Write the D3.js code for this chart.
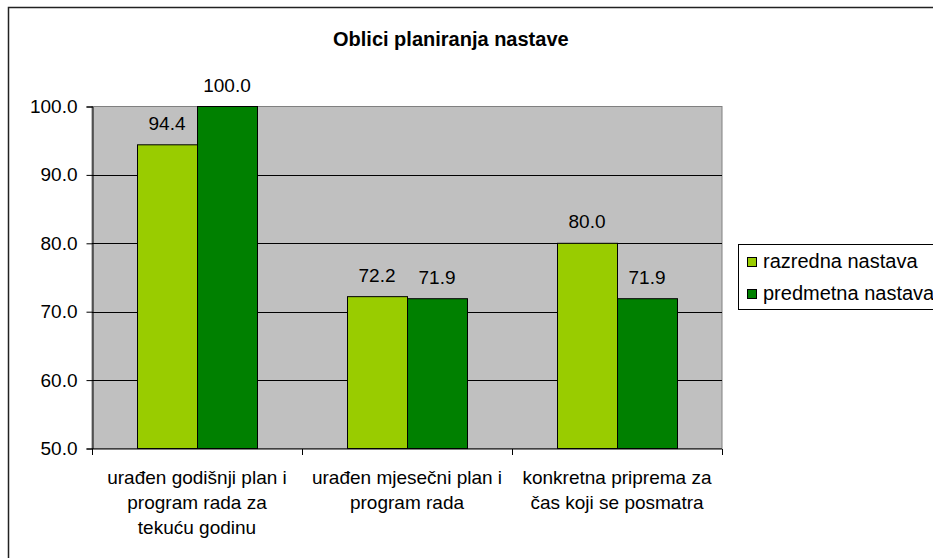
<!DOCTYPE html>
<html>
<head>
<meta charset="utf-8">
<script src="https://cdn.jsdelivr.net/npm/d3@7"></script>
<style>
  body { margin: 0; background: #fff; }
  svg { display: block; font-family: Arial, "Liberation Sans", sans-serif; }
</style>
</head>
<body>
<div id="chart"></div>
<script>
// chart data
var categories = [
    ["urađen godišnji plan i", "program rada za", "tekuću godinu"],
    ["urađen mjesečni plan i", "program rada"],
    ["konkretna priprema za", "čas koji se posmatra"]
];
var seriesNames = ["razredna nastava", "predmetna nastava"];
var razrednaValues = [94.4, 72.2, 80.0];
var predmetnaValues = [100.0, 71.9, 71.9];
var yTicks = [50, 60, 70, 80, 90, 100];
var seriesColors = ["#99CC00", "#008000"];

var width = 933, height = 558;
var plot = {left: 92, right: 722, top: 106.5, bottom: 448.5};

var svg = d3.select("#chart").append("svg")
    .attr("width", width)
    .attr("height", height);

// outer chart border (runs off the right / bottom edge)
svg.append("rect")
    .attr("x", 8.5).attr("y", 7.5)
    .attr("width", 1000).attr("height", 1000)
    .attr("fill", "#fff")
    .attr("stroke", "#222")
    .attr("stroke-width", 1.5);

svg.append("text")
    .attr("x", 333).attr("y", 46)
    .style("font-size", "20px")
    .style("font-weight", "bold")
    .text("Oblici planiranja nastave");

var y = d3.scaleLinear().domain([50, 100]).range([plot.bottom, plot.top]);
var x0 = d3.scaleBand().domain(d3.range(categories.length)).range([plot.left, plot.right]);
var x1 = d3.scaleBand().domain(seriesNames).range([45, 165]);

// plot background
svg.append("rect")
    .attr("x", plot.left).attr("y", plot.top)
    .attr("width", plot.right - plot.left).attr("height", plot.bottom - plot.top)
    .attr("fill", "#C0C0C0")
    .attr("stroke", "#808080");

// gridlines
svg.append("g").selectAll("line")
    .data(yTicks.filter(function(t) { return t > 50 && t < 100; }))
    .enter().append("line")
    .attr("x1", plot.left).attr("x2", plot.right)
    .attr("y1", function(d) { return Math.round(y(d)) + 0.5; })
    .attr("y2", function(d) { return Math.round(y(d)) + 0.5; })
    .attr("stroke", "#000");

// bars
var rows = categories.map(function(c, i) {
    return [
        {series: seriesNames[0], value: razrednaValues[i], color: seriesColors[0]},
        {series: seriesNames[1], value: predmetnaValues[i], color: seriesColors[1]}
    ];
});

var groups = svg.append("g").selectAll("g")
    .data(rows)
    .enter().append("g")
    .attr("transform", function(d, i) { return "translate(" + x0(i) + ",0)"; });

groups.selectAll("rect")
    .data(function(d) { return d; })
    .enter().append("rect")
    .attr("x", function(d) { return x1(d.series) + 0.5; })
    .attr("y", function(d) { return y(d.value); })
    .attr("width", x1.bandwidth())
    .attr("height", function(d) { return y(50) - y(d.value); })
    .attr("fill", function(d) { return d.color; })
    .attr("stroke", "#000")
    .attr("stroke-width", 1);

groups.selectAll("text")
    .data(function(d) { return d; })
    .enter().append("text")
    .attr("x", function(d) { return x1(d.series) + x1.bandwidth() / 2; })
    .attr("y", function(d) { return y(d.value) - 15; })
    .attr("text-anchor", "middle")
    .style("font-size", "19px")
    .text(function(d) { return d.value.toFixed(1); });

// y axis
var yAxis = d3.axisLeft(y).tickValues(yTicks).tickSize(6)
    .tickFormat(function(d) { return d3.format(".1f")(d); });
var yG = svg.append("g")
    .attr("transform", "translate(" + (plot.left + 0.5) + ",0)")
    .call(yAxis);
yG.selectAll("text").style("font-size", "19px").attr("fill", "#000").attr("x", -15);
yG.selectAll("line").attr("stroke", "#000");
yG.select(".domain").attr("stroke", "#000");

// x axis
var xG = svg.append("g")
    .attr("transform", "translate(0," + (plot.bottom + 0.5) + ")");
xG.append("line")
    .attr("x1", plot.left).attr("x2", plot.right)
    .attr("stroke", "#000");
xG.selectAll(".tk")
    .data(d3.range(categories.length + 1))
    .enter().append("line")
    .attr("class", "tk")
    .attr("x1", function(d) { return Math.round(plot.left + d * x0.step()) + 0.5; })
    .attr("x2", function(d) { return Math.round(plot.left + d * x0.step()) + 0.5; })
    .attr("y1", 0).attr("y2", 6)
    .attr("stroke", "#000");

xG.selectAll(".cat")
    .data(categories)
    .enter().append("text")
    .attr("class", "cat")
    .attr("text-anchor", "middle")
    .style("font-size", "19px")
    .each(function(lines, i) {
        var t = d3.select(this);
        lines.forEach(function(l, j) {
            t.append("tspan")
                .attr("x", x0(i) + x0.bandwidth() / 2)
                .attr("y", 35 + j * 25)
                .text(l);
        });
    });

// legend
var legend = svg.append("g").attr("transform", "translate(738,244)");
legend.append("rect")
    .attr("x", 0.5).attr("y", 0.5)
    .attr("width", 260).attr("height", 65)
    .attr("fill", "#fff")
    .attr("stroke", "#000");
var items = legend.selectAll(".item")
    .data(seriesNames)
    .enter().append("g")
    .attr("class", "item")
    .attr("transform", function(d, i) { return "translate(0," + (i * 32) + ")"; });
items.append("rect")
    .attr("x", 9.5).attr("y", 13.5)
    .attr("width", 9).attr("height", 9)
    .attr("fill", function(d, i) { return seriesColors[i]; })
    .attr("stroke", "#000");
items.append("text")
    .attr("x", 25).attr("y", 24)
    .style("font-size", "20px")
    .text(function(d) { return d; });
</script>
</body>
</html>
